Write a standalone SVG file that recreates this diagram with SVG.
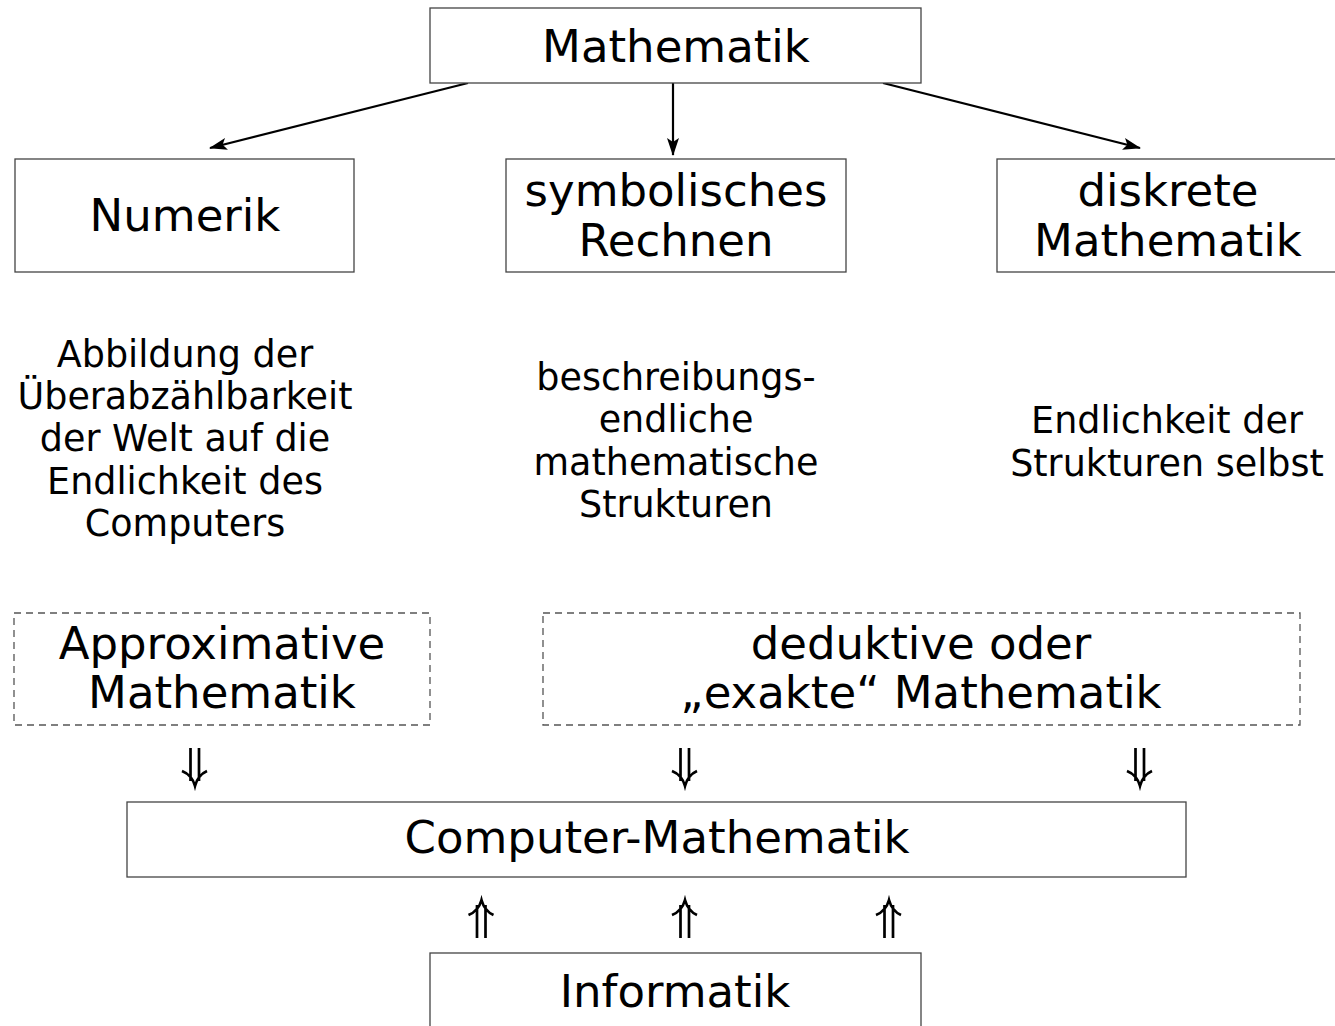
<svg xmlns="http://www.w3.org/2000/svg" width="1335" height="1026" viewBox="0 0 1335 1026">
<style>
text{font-family:"DejaVu Sans",sans-serif;fill:#000;text-anchor:middle}
.big{font-size:45px}
.mid{font-size:36.5px}
.box{fill:#fff;stroke:#444;stroke-width:1.3}
.dash{fill:none;stroke:#555;stroke-width:1.3;stroke-dasharray:7 5}
.conn{stroke:#000;stroke-width:2.2;fill:none;marker-end:url(#ah)}
.dbl{stroke:#000;stroke-width:2.7;fill:none;stroke-linecap:butt}
</style>
<defs>
<marker id="ah" markerWidth="18" markerHeight="12" refX="17" refY="6" orient="auto" markerUnits="userSpaceOnUse" viewBox="0 0 18 12">
<path d="M0,0 L18,6 L0,12 L4,6 Z" fill="#000"/>
</marker>
<path id="dn" d="M-4.5,-38 V-5 M4,-38 V-5 M-13,-15 Q-3,-11 0,0 Q3,-11 12,-15"/>
<path id="up" d="M-4.5,38 V5 M4,38 V5 M-13,15 Q-3,11 0,0 Q3,11 12,15"/>
</defs>
<rect width="1335" height="1026" fill="#fff"/>
<g id="connectors">
<line class="conn" x1="468" y1="83" x2="210" y2="148"/>
<line class="conn" x1="673" y1="83" x2="673" y2="155"/>
<line class="conn" x1="883" y1="83" x2="1140" y2="148"/>
<use href="#dn" class="dbl" x="195" y="786"/>
<use href="#dn" class="dbl" x="685" y="786"/>
<use href="#dn" class="dbl" x="1140" y="786"/>
<use href="#up" class="dbl" x="481.5" y="900"/>
<use href="#up" class="dbl" x="685" y="900"/>
<use href="#up" class="dbl" x="889" y="900"/>
</g>
<g id="mathematik">
<rect class="box" x="430" y="8" width="491" height="75"/>
<text class="big" x="676" y="62">Mathematik</text>
</g>
<g id="numerik">
<rect class="box" x="15" y="159" width="339" height="113"/>
<text class="big" x="185" y="231">Numerik</text>
</g>
<g id="symbolisch">
<rect class="box" x="506" y="159" width="340" height="113"/>
<text class="big" x="676" y="206">symbolisches</text>
<text class="big" x="676" y="256">Rechnen</text>
</g>
<g id="diskret">
<rect class="box" x="997" y="159" width="345" height="113"/>
<text class="big" x="1168" y="206">diskrete</text>
<text class="big" x="1168" y="256">Mathematik</text>
</g>
<g id="desc-numerik">
<text class="mid" x="185" y="367">Abbildung der</text>
<text class="mid" x="185" y="409">Überabzählbarkeit</text>
<text class="mid" x="185" y="451">der Welt auf die</text>
<text class="mid" x="185" y="494">Endlichkeit des</text>
<text class="mid" x="185" y="536">Computers</text>
</g>
<g id="desc-symbolisch">
<text class="mid" x="676" y="390">beschreibungs-</text>
<text class="mid" x="676" y="432">endliche</text>
<text class="mid" x="676" y="475">mathematische</text>
<text class="mid" x="676" y="517">Strukturen</text>
</g>
<g id="desc-diskret">
<text class="mid" x="1167" y="433">Endlichkeit der</text>
<text class="mid" x="1167" y="476">Strukturen selbst</text>
</g>
<g id="approximativ">
<rect class="dash" x="14" y="613" width="416" height="112"/>
<text class="big" x="222" y="659">Approximative</text>
<text class="big" x="222" y="708">Mathematik</text>
</g>
<g id="exakt">
<rect class="dash" x="543" y="613" width="757" height="112"/>
<text class="big" x="921" y="659">deduktive oder</text>
<text class="big" x="921" y="708">„exakte“ Mathematik</text>
</g>
<g id="computer-mathematik">
<rect class="box" x="127" y="802" width="1059" height="75"/>
<text class="big" x="657" y="853">Computer-Mathematik</text>
</g>
<g id="informatik">
<rect class="box" x="430" y="953" width="491" height="90"/>
<text class="big" x="675" y="1007">Informatik</text>
</g>
</svg>
